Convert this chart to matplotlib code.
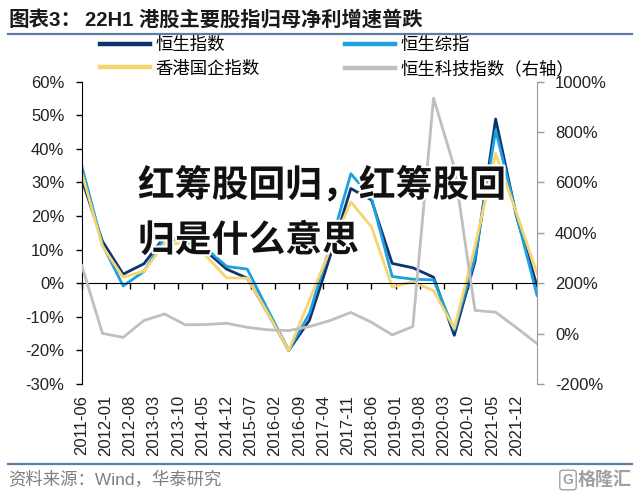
import numpy as np
import pandas as pd
import matplotlib
matplotlib.use('Agg')
import matplotlib.pyplot as plt
import matplotlib.patheffects as pe
from matplotlib.lines import Line2D
from matplotlib.ticker import FuncFormatter, MultipleLocator

plt.rcParams['font.family'] = ['Liberation Sans', 'Noto Sans CJK SC']

# half-year points, 2011-06 .. 2022-06
periods = ['2011-06', '2011-12', '2012-06', '2012-12', '2013-06', '2013-12',
           '2014-06', '2014-12', '2015-06', '2015-12', '2016-06', '2016-12',
           '2017-06', '2017-12', '2018-06', '2018-12', '2019-06', '2019-12',
           '2020-06', '2020-12', '2021-06', '2021-12', '2022-06']

# net profit growth, % (left axis)
hsi = [31, 12.5, 2.7, 5.8, 13.8, 12.2, 9.6, 4.2, 1.5, -9, -20, -11, 8,
       28.2, 24.8, 5.9, 4.6, 1.8, -15.5, 6.5, 48.9, 20, -0.8]
hsci = [35, 11.5, -0.8, 3.5, 13.5, 12.8, 10.4, 5, 4.2, -8, -20, -9, 11,
        32.6, 25.5, 2, 1.2, 1, -14, 7.6, 45.5, 20.5, -3.6]
hscei = [33, 11, 1.8, 3.6, 11.8, 11.8, 8.2, 1.6, 1.5, -9, -20, -5, 10,
         24.2, 16.8, -1.1, 0.4, -2.2, -13.5, 11, 38.6, 21, 3]
# Hang Seng Tech, % (right axis)
hstech = [271, 1, -15, 52, 78, 35, 36, 41, 25, 15, 12, 28, 52,
          84, 45, -5, 28, 935, 660, 92, 85, 24, -40]

tick_labels = ['2011-06', '2012-01', '2012-08', '2013-03', '2013-10', '2014-05',
               '2014-12', '2015-07', '2016-02', '2016-09', '2017-04', '2017-11',
               '2018-06', '2019-01', '2019-08', '2020-03', '2020-10', '2021-05',
               '2021-12']

NAVY = '#0E3470'
BLUE = '#1BA1DF'
YELLOW = '#F8D46E'
GRAY = '#BFBFBF'

dates = pd.to_datetime(periods)
tick_dates = pd.to_datetime(tick_labels)

W, H = 642, 498
fig = plt.figure(figsize=(W / 100, H / 100), dpi=100)
ax = fig.add_axes([81.7 / W, 1 - 384 / H, (537 - 81.7) / W, (384 - 81.7) / H])
ax2 = ax.twinx()

ax.plot(dates, hsi, color=NAVY, lw=2.0)
ax.plot(dates, hsci, color=BLUE, lw=2.0)
ax.plot(dates, hscei, color=YELLOW, lw=2.0)
ax2.plot(dates, hstech, color=GRAY, lw=2.0)

ax.set_xlim(dates[0], dates[-1])
ax.set_ylim(-30, 60)
ax2.set_ylim(-200, 1000)

ax.yaxis.set_major_locator(MultipleLocator(10))
ax.yaxis.set_major_formatter(FuncFormatter(lambda v, p: f'{v:.0f}%'))
ax2.yaxis.set_major_locator(MultipleLocator(200))
ax2.yaxis.set_major_formatter(FuncFormatter(lambda v, p: f'{v:.0f}%'))

ax.set_xticks(tick_dates)
ax2.xaxis.set_visible(True)
ax2.set_xticklabels(tick_labels)

for s in ['top', 'right']:
    ax.spines[s].set_visible(False)
ax.spines['bottom'].set_position(('data', 0))
ax.spines['bottom'].set_color('black')
ax.spines['left'].set_color('black')
for s in ['top', 'left', 'bottom']:
    ax2.spines[s].set_visible(False)
ax2.spines['right'].set_color('#9A9A9A')

ax.tick_params(axis='x', direction='out', length=4, width=1, labelbottom=False)
ax.tick_params(axis='y', direction='out', length=4, width=1, labelsize=12,
               pad=8.5, colors='black', labelcolor='#222222')
ax2.tick_params(axis='x', length=0, labelbottom=True, labelsize=12,
                rotation=90, pad=8, labelcolor='#222222')
ax2.tick_params(axis='y', direction='out', length=5, width=1, colors='#9A9A9A',
                labelsize=12, pad=8, labelcolor='#222222')

# legend: two columns, filled column-wise, thicker keys
keys = [Line2D([], [], color=c, lw=3.2) for c in (NAVY, YELLOW, BLUE, GRAY)]
fig.legend(keys, ['恒生指数', '香港国企指数', '恒生综指', '恒生科技指数（右轴）'],
           ncol=2, loc='upper left', bbox_to_anchor=(100 / W, 1 - 37 / H),
           frameon=False, fontsize=12.5, handlelength=2.9, handletextpad=0.3,
           columnspacing=4.9, labelspacing=0.42, borderpad=0, borderaxespad=0)

# header and footer
fig.text(8 / W, 1 - 20 / H, '图表3：', fontsize=14.8, fontweight='bold',
         va='center', color='#1A1A1A')
fig.text(85 / W, 1 - 20 / H, '22H1 港股主要股指归母净利增速普跌',
         fontsize=14.6, fontweight='bold', va='center', color='#1A1A1A')
fig.add_artist(Line2D([8 / W, 632 / W], [1 - 34.5 / H] * 2, color='#5E7CA2', lw=1.6))
fig.add_artist(Line2D([8 / W, 632 / W], [1 - 464 / H] * 2, color='#5E7CA2', lw=1.6))
fig.text(8 / W, 1 - 480 / H, '资料来源：Wind，华泰研究', fontsize=12.5,
         va='center', color='#7F7F7F')
fig.text(632 / W, 1 - 480 / H, '格隆汇', fontsize=13, va='center', ha='right',
         color='#A0A0A0', fontweight='bold')
fig.text(568 / W, 1 - 480 / H, 'G', fontsize=10, va='center', ha='center',
         color='#A0A0A0', fontweight='bold',
         bbox=dict(boxstyle='round,pad=0.2', fc='none', ec='#A0A0A0', lw=1))

# overlaid caption
stroke = [pe.withStroke(linewidth=3, foreground='white')]
fig.text(138 / W, 1 - 186 / H, '红筹股回归，红筹股回', fontsize=26.5,
         fontweight='heavy', va='center', color='#111111', path_effects=stroke,
         family='Noto Sans CJK SC')
fig.text(138 / W, 1 - 241 / H, '归是什么意思', fontsize=26.5,
         fontweight='heavy', va='center', color='#111111', path_effects=stroke,
         family='Noto Sans CJK SC')

fig.savefig('out.png', dpi=100)
